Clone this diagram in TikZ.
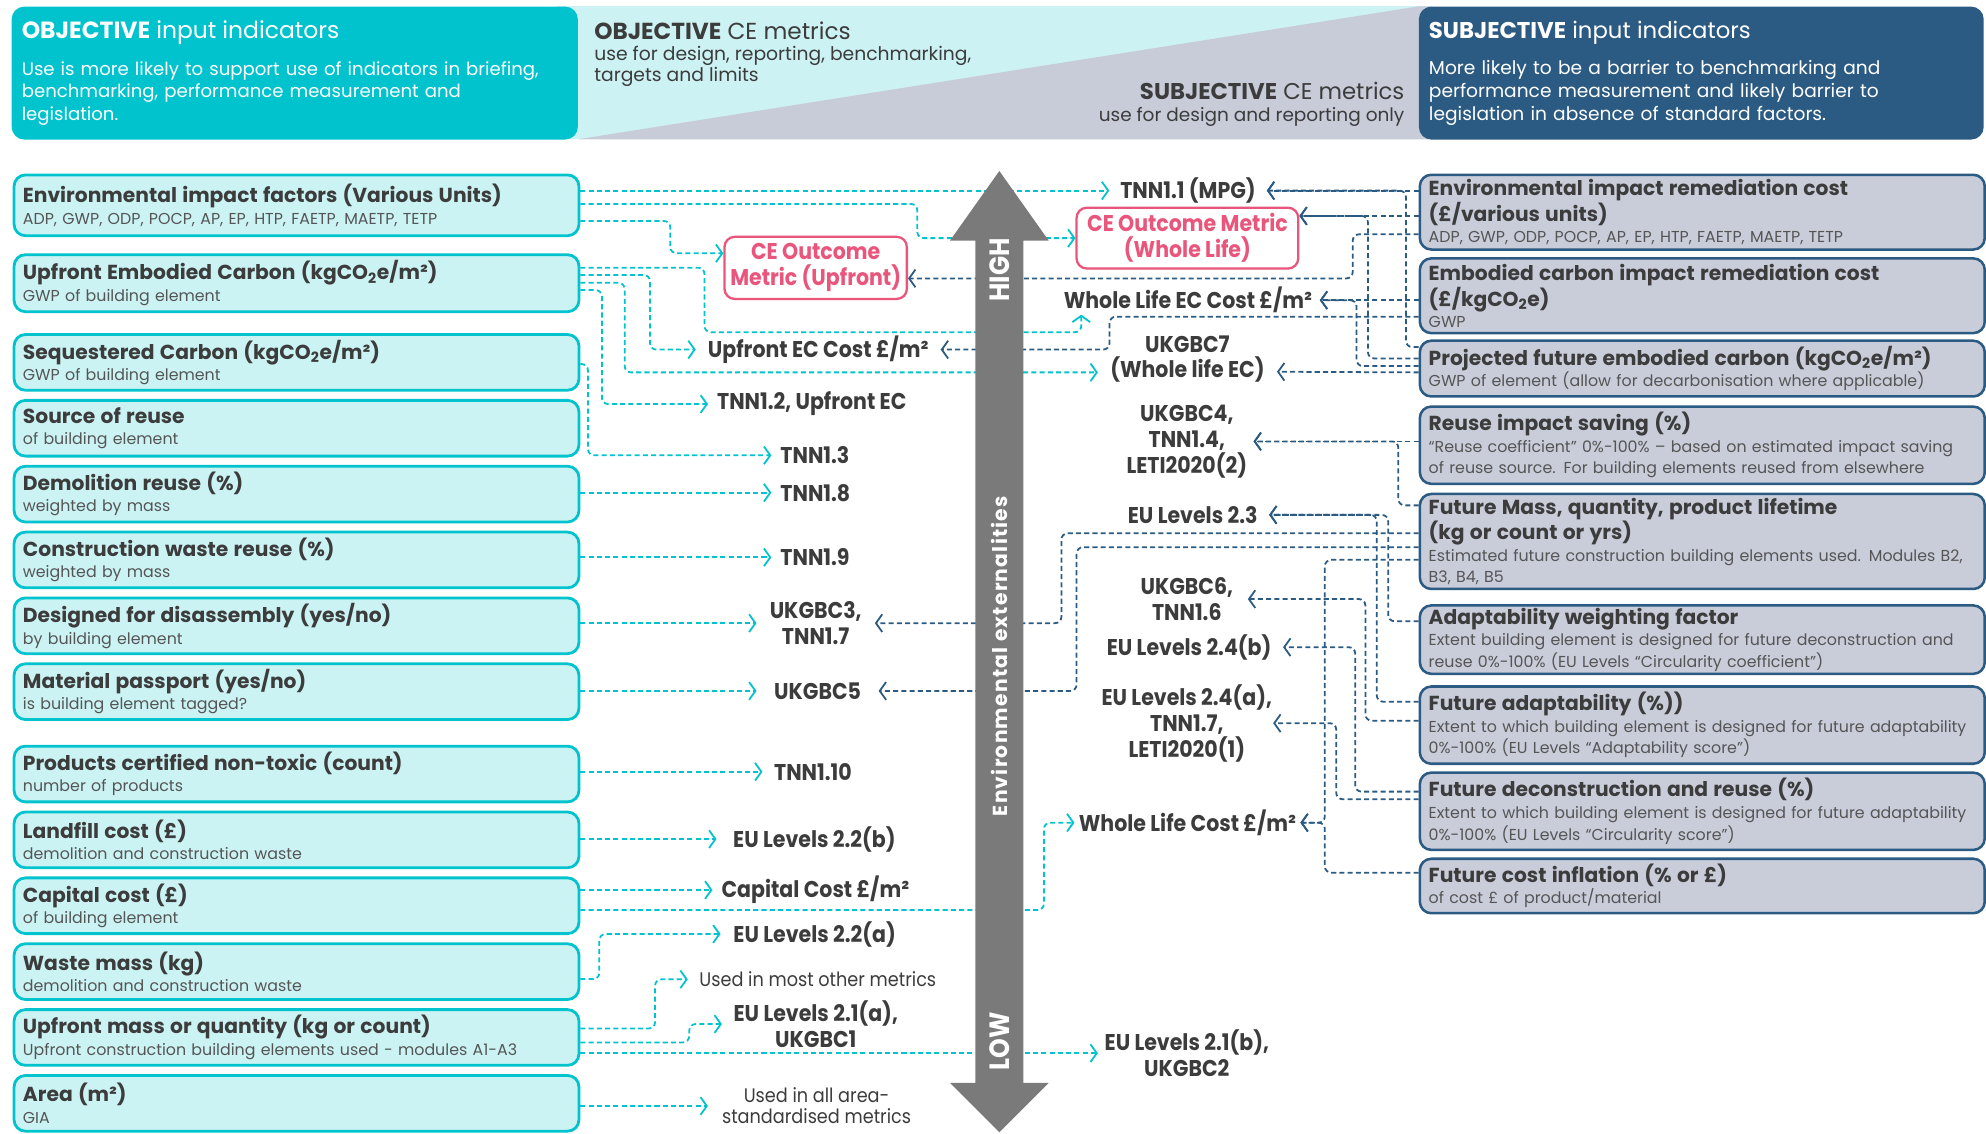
\documentclass[tikz,border=0pt]{standalone}
\usepackage{fontspec}
\setmainfont{Poppins}
\newfontfamily\condfont{Poppins}[FakeStretch=0.9]
\usetikzlibrary{arrows.meta,backgrounds}
\definecolor{cyanDark}{HTML}{00C3CD}
\definecolor{cyanLight}{HTML}{CCF3F4}
\definecolor{hdrLight}{HTML}{CCF2F3}
\definecolor{hdrGray}{HTML}{C8CCD9}
\definecolor{blueDark}{HTML}{2B5A82}
\definecolor{grayBox}{HTML}{C9CDDA}
\definecolor{pinkCE}{HTML}{E9557B}
\definecolor{txtDark}{HTML}{3C3C3C}
\definecolor{txtGray}{HTML}{555555}
\definecolor{arrowGray}{HTML}{7A7A7A}
\newcommand{\btitle}[1]{{\bfseries\fontsize{16}{17}\selectfont #1}}
\newcommand{\bsub}[1]{{\color{txtGray}#1}}
\tikzstyle{hbox} = [anchor=north west, rounded corners=10pt, minimum height=105pt, text width=430pt, inner xsep=8pt, align=left, text=white, font=\fontsize{14.3}{18}\selectfont]
\tikzstyle{lbox} = [draw=cyanDark, line width=2.2pt, fill=cyanLight, rounded corners=9pt, anchor=north west, text width=432pt, inner xsep=7pt, inner ysep=0pt, minimum height=44pt, align=left, text=txtDark, font=\fontsize{12.5}{17}\selectfont]
\tikzstyle{rbox} = [lbox, draw=blueDark, fill=grayBox, line width=2pt]
\tikzstyle{metric} = [text=txtDark, font=\condfont\bfseries\fontsize{18}{20.5}\selectfont, inner sep=0pt, align=center]
\tikzstyle{pinkbox} = [metric, draw=pinkCE, text=pinkCE, line width=1.8pt, rounded corners=8pt, fill=white]
\tikzstyle{cline} = [draw=cyanDark, dash pattern=on 4pt off 2.5pt, line width=1.4pt, rounded corners=5pt, -{Straight Barb[length=5pt,width=14pt]}]
\tikzstyle{bline} = [cline, draw=blueDark]

\begin{document}
\begin{tikzpicture}[x=1pt,y=-1pt]
    \useasboundingbox (0,0) rectangle (1568,895);

    % header band
    \fill[hdrLight] (440,5) rectangle (1130,110);
    \fill[hdrGray] (456,110) -- (1120,5) -- (1130,5) -- (1130,110) -- cycle;
    \node[hbox, fill=cyanDark, text width=431pt] (hObj) at (9,5) {{\fontsize{18.5}{20}\selectfont\textbf{OBJECTIVE} input indicators}\\[11pt]Use is more likely to support use of indicators in briefing,\\benchmarking, performance measurement and\\legislation.};
    \node[hbox, fill=blueDark, font=\fontsize{14.7}{18}\selectfont] (hSub) at (1120,5) {{\fontsize{18}{20}\selectfont\textbf{SUBJECTIVE} input indicators}\\[11pt]More likely to be a barrier to benchmarking and\\performance measurement and likely barrier to\\legislation in absence of standard factors.};
    \node[anchor=north west, align=left, inner sep=0pt, text=txtDark, font=\fontsize{14.8}{16.5}\selectfont] (hObjCE) at (469,17) {{\fontsize{18.3}{18}\selectfont\textbf{OBJECTIVE} CE metrics}\\use for design, reporting, benchmarking,\\targets and limits};
    \node[anchor=south east, align=right, inner sep=0pt, text=txtDark, font=\fontsize{14.6}{17}\selectfont] (hSubCE) at (1109,100) {{\fontsize{18}{17}\selectfont\textbf{SUBJECTIVE} CE metrics}\\use for design and reporting only};

    % objective input indicators
    \node[lbox, minimum height=48pt] (lEnv) at (10,137) {\btitle{Environmental impact factors (Various Units)}\\\bsub{ADP, GWP, ODP, POCP, AP, EP, HTP, FAETP, MAETP, TETP}};
    \node[lbox, minimum height=45pt] (lUpEC) at (10,200) {\btitle{Upfront Embodied Carbon (kgCO\textsubscript{2}e/m²)}\\\bsub{GWP of building element}};
    \node[lbox] (lSeq) at (10,263) {\btitle{Sequestered Carbon (kgCO\textsubscript{2}e/m²)}\\\bsub{GWP of building element}};
    \node[lbox] (lSrc) at (10,315) {\btitle{Source of reuse}\\\bsub{of building element}};
    \node[lbox] (lDemo) at (10,367) {\btitle{Demolition reuse (\%)}\\\bsub{weighted by mass}};
    \node[lbox] (lCons) at (10,419) {\btitle{Construction waste reuse (\%)}\\\bsub{weighted by mass}};
    \node[lbox] (lDis) at (10,471) {\btitle{Designed for disassembly (yes/no)}\\\bsub{by building element}};
    \node[lbox] (lPass) at (10,523) {\btitle{Material passport (yes/no)}\\\bsub{is building element tagged?}};
    \node[lbox] (lTox) at (10,588) {\btitle{Products certified non-toxic (count)}\\\bsub{number of products}};
    \node[lbox] (lLand) at (10,640) {\btitle{Landfill cost (£)}\\\bsub{demolition and construction waste}};
    \node[lbox] (lCap) at (10,692) {\btitle{Capital cost (£)}\\\bsub{of building element}};
    \node[lbox] (lWaste) at (10,744) {\btitle{Waste mass (kg)}\\\bsub{demolition and construction waste}};
    \node[lbox] (lUpm) at (10,796) {\btitle{Upfront mass or quantity (kg or count)}\\\bsub{Upfront construction building elements used - modules A1-A3}};
    \node[lbox] (lArea) at (10,848) {\btitle{Area (m²)}\\\bsub{GIA}};

    % subjective input indicators
    \node[rbox, minimum height=59pt] (rEnv) at (1120,137) {\btitle{Environmental impact remediation cost\\(£/various units)}\\\bsub{ADP, GWP, ODP, POCP, AP, EP, HTP, FAETP, MAETP, TETP}};
    \node[rbox, minimum height=59pt] (rEmb) at (1120,203) {\btitle{Embodied carbon impact remediation cost\\(£/kgCO\textsubscript{2}e)}\\\bsub{GWP}};
    \node[rbox] (rProj) at (1120,268) {\btitle{Projected future embodied carbon (kgCO\textsubscript{2}e/m²)}\\\bsub{GWP of element (allow for decarbonisation where applicable)}};
    \node[rbox, minimum height=61pt] (rReuse) at (1120,320) {\btitle{Reuse impact saving (\%)}\\\bsub{“Reuse coefficient” 0\%-100\% – based on estimated impact saving\\of reuse source. For building elements reused from elsewhere}};
    \node[rbox, minimum height=75pt] (rFMass) at (1120,389) {\btitle{Future Mass, quantity, product lifetime\\(kg or count or yrs)}\\\bsub{Estimated future construction building elements used. Modules B2,\\B3, B4, B5}};
    \node[rbox, minimum height=54pt] (rAdW) at (1120,477) {\btitle{Adaptability weighting factor}\\\bsub{Extent building element is designed for future deconstruction and\\reuse 0\%-100\% (EU Levels “Circularity coefficient”)}};
    \node[rbox, minimum height=61pt] (rFAd) at (1120,541) {\btitle{Future adaptability (\%))}\\\bsub{Extent to which building element is designed for future adaptability\\0\%-100\% (EU Levels “Adaptability score”)}};
    \node[rbox, minimum height=61pt] (rFDec) at (1120,609) {\btitle{Future deconstruction and reuse (\%)}\\\bsub{Extent to which building element is designed for future adaptability\\0\%-100\% (EU Levels “Circularity score”)}};
    \node[rbox, minimum height=43pt] (rFCost) at (1120,677) {\btitle{Future cost inflation (\% or £)}\\\bsub{of cost £ of product/material}};

    % CE metrics
    \node[pinkbox, minimum width=144pt, minimum height=49pt] (pinkUp) at (644,211.5) {CE Outcome\\Metric (Upfront)};
    \node[pinkbox, minimum width=175pt, minimum height=48pt] (pinkWL) at (937.5,188) {CE Outcome Metric\\(Whole Life)};
    \node[metric, minimum width=124pt] (tnnMPG) at (938,150.5) {TNN1.1 (MPG)};
    \node[metric, anchor=east, inner xsep=6pt, inner ysep=1pt] (wlEC) at (1042,237) {Whole Life EC Cost £/m²};
    \node[metric, minimum width=193pt] (upEC) at (646,276) {Upfront EC Cost £/m²};
    \node[metric, minimum width=141pt] (ukgbc7) at (937.5,283.5) {UKGBC7\\(Whole life EC)};
    \node[metric, anchor=west, inner xsep=7pt] (tnnUp) at (559,319) {TNN1.2, Upfront EC};
    \node[metric, minimum width=105pt] (ukgbc4) at (937,348.5) {UKGBC4,\\TNN1.4,\\LETI2020(2)};
    \node[metric, anchor=west, inner xsep=7pt] (tnn13) at (609,359.5) {TNN1.3};
    \node[metric, anchor=west, inner xsep=7pt] (tnn18) at (609,389) {TNN1.8};
    \node[metric, anchor=east, inner xsep=9pt] (eu23) at (1002,406.5) {EU Levels 2.3};
    \node[metric, anchor=west, inner xsep=7pt] (tnn19) at (609,440) {TNN1.9};
    \node[metric, minimum width=96pt] (ukgbc6) at (937,473) {UKGBC6,\\TNN1.6};
    \node[metric, minimum width=93pt] (ukgbc3) at (644,492) {UKGBC3,\\TNN1.7};
    \node[metric, anchor=east, inner xsep=9pt] (eu24b) at (1013,511) {EU Levels 2.4(b)};
    \node[metric, minimum width=96pt] (ukgbc5) at (645.5,545.5) {UKGBC5};
    \node[metric, minimum width=136pt] (eu24a) at (937,571) {EU Levels 2.4(a),\\TNN1.7,\\LETI2020(1)};
    \node[metric, anchor=west, inner xsep=9pt] (tnn110) at (602,609.3) {TNN1.10};
    \node[metric, minimum width=178pt] (wlCost) at (937.5,649.5) {Whole Life Cost £/m²};
    \node[metric, anchor=west, inner xsep=13pt] (eu22b) at (565.7,662.5) {EU Levels 2.2(b)};
    \node[metric, anchor=west, inner xsep=7pt] (capCost) at (562.5,702.7) {Capital Cost £/m²};
    \node[metric, anchor=west, inner xsep=10pt] (eu22a) at (568.9,737.4) {EU Levels 2.2(a)};
    \node[metric, anchor=west, inner xsep=9pt, font=\condfont\fontsize{15.5}{16.5}\selectfont] (usedMost) at (543,773.2) {Used in most other metrics};
    \node[metric, anchor=west, inner xsep=9pt] (eu21a) at (570,808.5) {EU Levels 2.1(a),\\UKGBC1};
    \node[metric, minimum width=140pt] (eu21b) at (937,831.5) {EU Levels 2.1(b),\\UKGBC2};
    \node[metric, anchor=west, inner xsep=11pt, font=\condfont\fontsize{15.5}{16.5}\selectfont] (usedArea) at (558.9,873.2) {Used in all area-\\standardised metrics};

    % connectors behind the boxes
    \begin{pgfonlayer}{background}
    \draw[cline] (lEnv.east |- tnnMPG.west) -- (tnnMPG.west);
    \draw[cline] ([yshift=-24pt]lEnv.north east) -- ++(266,0) |- (pinkWL.west);
    \draw[cline] ([yshift=-37.5pt]lEnv.north east) -- ++(71,0) |- ([yshift=11.5pt]pinkUp.west);
    \draw[cline] ([yshift=-11.3pt]lUpEC.north east) -- ++(98,0) -- ++(0,51) -| ([xshift=20pt]wlEC.south west);
    \draw[cline] ([yshift=-17.1pt]lUpEC.north east) -- ++(55,0) |- (upEC.west);
    \draw[cline] ([yshift=-23.2pt]lUpEC.north east) -- ++(35,0) |- ([yshift=-10.5pt]ukgbc7.west);
    \draw[cline] ([yshift=-29pt]lUpEC.north east) -- ++(17,0) |- (tnnUp.west);
    \draw[cline] ([yshift=-24.4pt]lSeq.north east) -- ++(6,0) |- (tnn13.west);
    \draw[cline] (lDemo.east |- tnn18.west) -- (tnn18.west);
    \draw[cline] (lCons.east |- tnn19.west) -- (tnn19.west);
    \draw[cline] (lDis.east |- ukgbc3.west) -- (ukgbc3.west);
    \draw[cline] (lPass.east |- ukgbc5.west) -- (ukgbc5.west);
    \draw[cline] (lTox.east |- tnn110.west) -- (tnn110.west);
    \draw[cline] (lLand.east |- eu22b.west) -- (eu22b.west);
    \draw[cline] (lCap.east |- capCost.west) -- (capCost.west);
    \draw[cline] ([yshift=-26.5pt]lCap.north east) -- ++(366,0) |- (wlCost.west);
    \draw[cline] ([yshift=-29pt]lWaste.north east) -- ++(15,0) |- (eu22a.west);
    \draw[cline] ([yshift=-16pt]lUpm.north east) -- ++(59,0) |- (usedMost.west);
    \draw[cline] ([yshift=-27pt]lUpm.north east) -- ++(86,0) |- (eu21a.west);
    \draw[cline] (lUpm.east |- eu21b.west) -- (eu21b.west);
    \draw[cline] (lArea.east |- usedArea.west) -- (usedArea.west);

    \draw[bline] (rEnv.west |- tnnMPG.east) -- (tnnMPG.east);
    \draw[bline] ([yshift=-6pt]rProj.north west) -- ++(-10,0) |- (tnnMPG.east);
    \draw[bline] ([yshift=-33.5pt]rEnv.north west) -- ([yshift=17.5pt]pinkWL.east);
    \draw[bline] ([yshift=-15pt]rProj.north west) -- ++(-40,0) |- ([yshift=17.5pt]pinkWL.east);
    \draw[bline] ([yshift=-48pt]rEnv.north west) -- ++(-52,0) |- ([yshift=-8.3pt]pinkUp.east);
    \draw[bline] (rEmb.west |- wlEC.east) -- (wlEC.east);
    \draw[bline] ([yshift=-21pt]rProj.north west) -- ++(-49,0) |- (wlEC.east);
    \draw[bline] ([yshift=-47pt]rEmb.north west) -- ++(-244,0) |- (upEC.east);
    \draw[bline] ([yshift=-26pt]rProj.north west) -- ([yshift=-10pt]ukgbc7.east);
    \draw[bline] (rReuse.west |- ukgbc4.east) -- (ukgbc4.east);
    \draw[bline] ([yshift=-10pt]rFMass.north west) -- ++(-16,0) |- (ukgbc4.east);
    \draw[bline] ([yshift=-32pt]rFMass.north west) -- ++(-282,0) |- (ukgbc3.east);
    \draw[bline] ([yshift=-43pt]rFMass.north west) -- ++(-270,0) |- (ukgbc5.east);
    \draw[bline] ([yshift=-53pt]rFMass.north west) -- ++(-74,0) |- (wlCost.east);
    \draw[bline] ([yshift=-12pt]rFCost.north west) -- ++(-74,0) |- (wlCost.east);
    \draw[bline] ([yshift=-13.5pt]rAdW.north west) -- ++(-24,0) |- (eu23.east);
    \draw[bline] ([yshift=-13pt]rFAd.north west) -- ++(-33,0) |- (eu23.east);
    \draw[bline] ([yshift=-28pt]rFAd.north west) -- ++(-42,0) |- (ukgbc6.east);
    \draw[bline] ([yshift=-16pt]rFDec.north west) -- ++(-50,0) |- (eu24b.east);
    \draw[bline] ([yshift=-22pt]rFDec.north west) -- ++(-65,0) |- (eu24a.east);
    \end{pgfonlayer}

    % externalities axis
    \fill[arrowGray] (789,135) -- (828,190) -- (808,190) -- (808,855) -- (828,855) -- (789,894)
        -- (750,855) -- (770,855) -- (770,190) -- (750,190) -- cycle;
    \node[rotate=90, text=white, font=\condfont\bfseries\fontsize{22}{22}\selectfont] (tHigh) at (789,213) {HIGH};
    \node[rotate=90, text=white, font=\condfont\bfseries\fontsize{22}{22}\selectfont] (tLow) at (789,822) {LOW};
    \node[rotate=90, text=white, font=\bfseries\fontsize{16}{16}\selectfont\addfontfeatures{LetterSpace=6}] (tExt) at (789,518) {Environmental externalities};
\end{tikzpicture}
\end{document}
